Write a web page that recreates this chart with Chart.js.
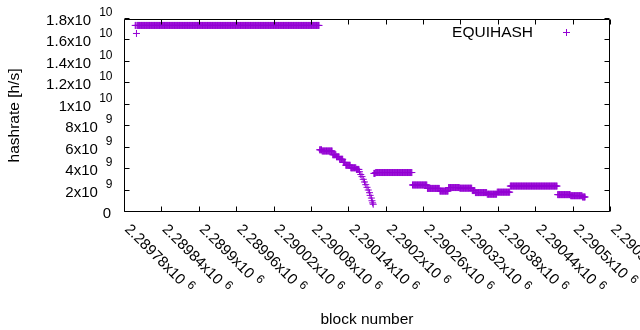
<!DOCTYPE html>
<html>
<head>
<meta charset="utf-8">
<script src="https://cdn.jsdelivr.net/npm/chart.js@4/dist/chart.umd.min.js"></script>
<style>
  body { margin: 0; background: #fff; }
  #wrap { width: 640px; height: 330px; }
</style>
</head>
<body>
<div id="wrap"><canvas id="myChart"></canvas></div>
<script>
// hashrate runs: one point per block from runStart to runEnd
var runStart = [2289798, 2289800, 2289801, 2290094, 2290098, 2290115, 2290121, 2290126, 2290132, 2290136,
                2290144, 2290153, 2290158, 2290160, 2290162, 2290164, 2290166, 2290168, 2290170, 2290172,
                2290174, 2290175, 2290177, 2290178, 2290179, 2290180, 2290181, 2290184, 2290243, 2290267,
                2290287, 2290301, 2290319, 2290339, 2290344, 2290363, 2290379, 2290400, 2290476, 2290497,
                2290516];
var runEnd   = [2289799, 2289800, 2290093, 2290097, 2290114, 2290120, 2290125, 2290131, 2290135, 2290143,
                2290152, 2290157, 2290158, 2290160, 2290162, 2290164, 2290166, 2290168, 2290170, 2290172,
                2290174, 2290175, 2290177, 2290178, 2290179, 2290180, 2290183, 2290242, 2290266, 2290286,
                2290300, 2290318, 2290338, 2290343, 2290362, 2290378, 2290399, 2290475, 2290496, 2290515,
                2290520];
var runRate  = [17.4e9, 16.65e9, 17.4e9, 5.8e9, 5.69e9, 5.34e9, 5.15e9, 4.92e9, 4.62e9, 4.36e9,
                4.12e9, 3.97e9, 3.75e9, 3.5e9, 3.3e9, 3.05e9, 2.8e9, 2.55e9, 2.3e9, 2.05e9,
                1.8e9, 1.55e9, 1.3e9, 1.05e9, 0.85e9, 0.72e9, 3.6e9, 3.68e9, 2.52e9, 2.2e9,
                1.95e9, 2.28e9, 2.22e9, 2.0e9, 1.81e9, 1.66e9, 1.85e9, 2.42e9, 1.62e9, 1.52e9,
                1.4e9];

var xMin = 2289780, xMax = 2290560, xStep = 60;
var yMin = 0, yMax = 1.8e10, yStep = 2e9;
var seriesName = "EQUIHASH";
var color = "#9400d3";
var FONT = '"Liberation Sans", Arial, sans-serif';

var points = [];
runStart.forEach(function (s, i) {
  for (var b = s; b <= runEnd[i]; b++) points.push({x: b, y: runRate[i]});
});

// gnuplot style "m x10^e" label
function sciLabel(v) {
  if (v === 0) return ["0", ""];
  var e = Math.floor(Math.log10(Math.abs(v)) + 1e-9);
  var m = parseFloat((v / Math.pow(10, e)).toFixed(6));
  return [m + "x10", String(e)];
}

var gnuFrame = {
  id: "gnuFrame",
  afterDraw: function (chart) {
    var ctx = chart.ctx, a = chart.chartArea;
    var xs = chart.scales.x, ys = chart.scales.y;
    var L = a.left + 0.5, R = a.right - 0.5, T = a.top + 0.5, B = a.bottom - 0.5;
    ctx.save();
    ctx.strokeStyle = "#000";
    ctx.lineWidth = 1;
    ctx.beginPath();
    ctx.rect(L, T, R - L, B - T);
    xs.ticks.forEach(function (t) {
      var px = Math.round(xs.getPixelForValue(t.value)) + 0.5;
      ctx.moveTo(px, B); ctx.lineTo(px, B - 5);
      ctx.moveTo(px, T); ctx.lineTo(px, T + 5);
    });
    ys.ticks.forEach(function (t) {
      var py = Math.round(ys.getPixelForValue(t.value)) - 0.5;
      ctx.moveTo(L, py); ctx.lineTo(L + 5, py);
      ctx.moveTo(R, py); ctx.lineTo(R - 5, py);
    });
    ctx.stroke();

    ctx.fillStyle = "#000";
    // y tick labels
    ys.ticks.forEach(function (t) {
      var py = ys.getPixelForValue(t.value);
      var lab = sciLabel(t.value);
      ctx.textAlign = "right";
      ctx.textBaseline = "alphabetic";
      if (!lab[1]) {
        ctx.font = "15px " + FONT;
        ctx.fillText(lab[0], 111, py + 6);
        return;
      }
      ctx.font = "12px " + FONT;
      var sw = ctx.measureText(lab[1]).width + 8;
      ctx.fillText(lab[1], 112.5, py - 3);
      ctx.font = "15px " + FONT;
      ctx.fillText(lab[0], 112.5 - sw, py + 6);
    });
    // x tick labels, rotated
    xs.ticks.forEach(function (t) {
      var px = xs.getPixelForValue(t.value);
      var lab = sciLabel(t.value);
      ctx.save();
      ctx.translate(px + 3, a.bottom + 15);
      ctx.rotate(Math.PI / 4);
      ctx.textAlign = "left";
      ctx.textBaseline = "middle";
      ctx.font = "15px " + FONT;
      ctx.fillText(lab[0], 0, 0);
      var w = ctx.measureText(lab[0]).width;
      ctx.font = "12px " + FONT;
      ctx.fillText(lab[1], w + 5, -4);
      ctx.restore();
    });
    // key
    var ds = chart.data.datasets[0];
    ctx.font = "15.5px " + FONT;
    ctx.textAlign = "right";
    ctx.textBaseline = "alphabetic";
    ctx.fillText(ds.label, 533, 37);
    ctx.strokeStyle = ds.borderColor;
    ctx.beginPath();
    ctx.moveTo(563, 32.5); ctx.lineTo(570, 32.5);
    ctx.moveTo(566.5, 29); ctx.lineTo(566.5, 36);
    ctx.stroke();
    ctx.restore();
  }
};

Chart.defaults.color = "#000";
Chart.defaults.font.family = FONT;

new Chart("myChart", {
  type: "scatter",
  data: {
    datasets: [{
      label: seriesName,
      data: points,
      borderColor: color,
      backgroundColor: color,
      pointStyle: "cross",
      pointRadius: 3.5,
      pointBorderWidth: 1,
      pointHoverRadius: 3.5,
      showLine: false
    }]
  },
  options: {
    responsive: true,
    maintainAspectRatio: false,
    animation: false,
    events: [],
    layout: { autoPadding: false, padding: { left: 0, right: 30, top: 19, bottom: 0 } },
    plugins: { legend: { display: false }, tooltip: { enabled: false } },
    scales: {
      x: {
        type: "linear",
        min: xMin, max: xMax,
        ticks: { stepSize: xStep, display: false },
        grid: { display: false, drawTicks: false },
        border: { display: false },
        title: { display: true, text: "block number", font: { size: 15.5 },
                 padding: { top: 98.8, bottom: 0.6 } }
      },
      y: {
        min: yMin, max: yMax,
        ticks: { stepSize: yStep, display: false },
        grid: { display: false, drawTicks: false },
        border: { display: false },
        title: { display: true, text: "hashrate [h/s]", font: { size: 15.5 },
                 padding: { top: 5.7, bottom: 99.7 } }
      }
    }
  },
  plugins: [gnuFrame]
});
</script>
</body>
</html>
